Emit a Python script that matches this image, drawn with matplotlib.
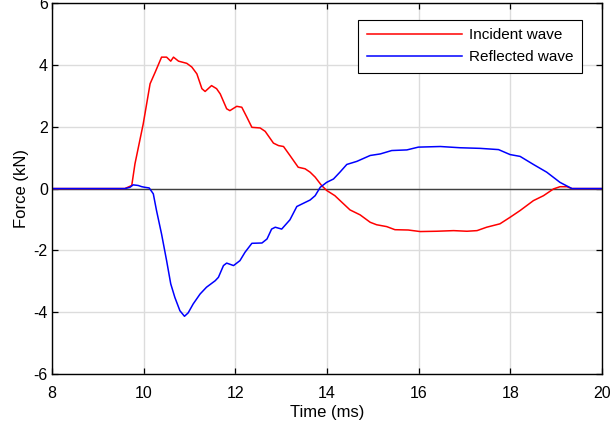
import matplotlib
matplotlib.use('Agg')
import matplotlib.pyplot as plt

plt.rcParams['font.family'] = ['Liberation Sans', 'DejaVu Sans']
plt.rcParams['axes.unicode_minus'] = False

# incident wave (time in ms, force in kN)
t_inc = [8.0, 9.59, 9.74, 9.81, 9.99, 10.14, 10.25, 10.39, 10.50, 10.59, 10.65,
         10.76, 10.94, 11.05, 11.16, 11.27, 11.34, 11.48, 11.59, 11.67, 11.81,
         11.88, 12.03, 12.14, 12.25, 12.36, 12.54, 12.65, 12.83, 12.94, 13.05,
         13.19, 13.37, 13.52, 13.63, 13.74, 13.88, 13.99, 14.17, 14.32, 14.50,
         14.72, 14.94, 15.08, 15.30, 15.48, 15.77, 16.03, 16.39, 16.76, 17.05,
         17.27, 17.48, 17.77, 17.99, 18.21, 18.50, 18.72, 18.94, 19.08, 19.23,
         19.34, 20.0]
f_inc = [0.0, 0.0, 0.1, 0.8, 2.09, 3.39, 3.76, 4.25, 4.25, 4.12, 4.25,
         4.12, 4.05, 3.93, 3.71, 3.23, 3.14, 3.33, 3.23, 3.06, 2.58,
         2.52, 2.66, 2.63, 2.31, 1.98, 1.96, 1.85, 1.47, 1.39, 1.36,
         1.07, 0.69, 0.64, 0.53, 0.37, 0.10, -0.06, -0.23, -0.44, -0.69,
         -0.85, -1.09, -1.17, -1.23, -1.33, -1.34, -1.39, -1.38, -1.36, -1.38,
         -1.36, -1.25, -1.14, -0.93, -0.71, -0.39, -0.23, -0.01, 0.06, 0.06,
         0.0, 0.0]

# reflected wave
t_ref = [8.0, 9.59, 9.70, 9.77, 9.88, 9.96, 10.03, 10.12, 10.21, 10.28, 10.39,
         10.50, 10.59, 10.68, 10.79, 10.89, 10.97, 11.08, 11.23, 11.37, 11.56,
         11.63, 11.74, 11.81, 11.96, 12.10, 12.21, 12.36, 12.58, 12.69, 12.79,
         12.87, 13.01, 13.19, 13.34, 13.45, 13.63, 13.74, 13.85, 13.99, 14.14,
         14.28, 14.43, 14.65, 14.94, 15.16, 15.41, 15.74, 15.99, 16.47, 16.90,
         17.34, 17.74, 17.99, 18.21, 18.50, 18.79, 19.08, 19.34, 20.0]
f_ref = [0.0, 0.0, 0.04, 0.12, 0.10, 0.06, 0.04, 0.02, -0.17, -0.71, -1.47,
         -2.33, -3.08, -3.52, -3.95, -4.13, -4.02, -3.73, -3.41, -3.19, -2.98,
         -2.87, -2.49, -2.41, -2.49, -2.33, -2.06, -1.77, -1.76, -1.63, -1.31,
         -1.25, -1.31, -1.01, -0.58, -0.50, -0.37, -0.23, 0.04, 0.20, 0.31,
         0.53, 0.78, 0.88, 1.07, 1.12, 1.23, 1.25, 1.34, 1.36, 1.32,
         1.30, 1.26, 1.10, 1.04, 0.78, 0.53, 0.20, 0.0, 0.0]

fig = plt.figure(figsize=(6.1, 4.32), dpi=100)
ax = fig.add_axes([0.0852, 0.134, 0.902, 0.859])

ax.plot(t_inc, f_inc, color='red', lw=1.1, label='Incident wave')
ax.plot(t_ref, f_ref, color='blue', lw=1.1, label='Reflected wave')
ax.axhline(0, color='#404040', lw=1.0, zorder=1.5)

ax.set_xlim(8, 20)
ax.set_ylim(-6, 6)
ax.set_xticks(range(8, 21, 2))
ax.set_yticks(range(-6, 7, 2))
ax.grid(True, color='#dcdcdc', lw=1.0)
ax.set_axisbelow(True)
ax.tick_params(direction='in', top=True, right=True, labelsize=11.5, length=4.5,
               width=0.9)
ax.tick_params(axis='x', pad=8.5)
ax.tick_params(axis='y', pad=3)
for s in ax.spines.values():
    s.set_linewidth(1.0)

ax.set_xlabel('Time (ms)', fontsize=12, labelpad=3)
ax.set_ylabel('Force (kN)', fontsize=12, labelpad=3)

leg = ax.legend(loc='upper right', bbox_to_anchor=(0.9636, 0.954), fontsize=11,
                fancybox=False, framealpha=1, edgecolor='black', borderaxespad=0,
                borderpad=0.55, labelspacing=0.5, handlelength=6.2,
                handletextpad=0.5)
leg.get_frame().set_linewidth(0.8)

fig.savefig('out.png', dpi=100)
